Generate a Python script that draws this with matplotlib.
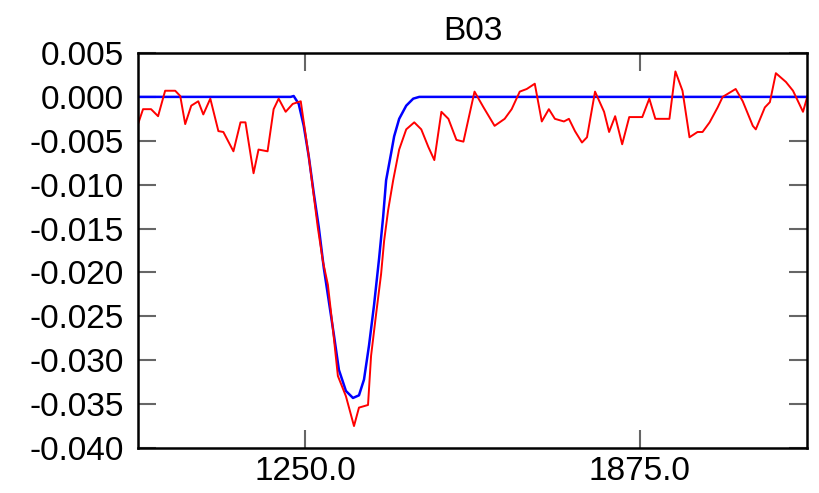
import matplotlib
matplotlib.use("Agg")
import matplotlib.pyplot as plt

plt.rcParams["font.family"] = ["Liberation Sans", "DejaVu Sans"]

# measured trace (red) and fitted dip model (blue)
trace_x = [
    937.5, 946.9, 961.9, 975.0, 988.2, 1007.0, 1016.4, 1025.7, 1037.0, 1050.1,
    1059.5, 1072.6, 1087.7, 1097.0, 1115.8, 1129.0, 1138.3, 1153.4, 1162.7, 1179.6,
    1190.9, 1200.3, 1213.4, 1226.6, 1241.6, 1256.6, 1273.5, 1282.9, 1292.3, 1301.6,
    1311.0, 1326.0, 1341.1, 1350.4, 1367.3, 1373.0, 1382.3, 1391.7, 1397.4, 1404.9,
    1414.3, 1425.5, 1438.7, 1453.7, 1466.8, 1480.0, 1491.2, 1504.4, 1517.5, 1532.5,
    1545.6, 1566.3, 1583.2, 1603.8, 1622.6, 1635.7, 1650.8, 1663.9, 1678.9, 1692.0,
    1705.2, 1716.5, 1733.4, 1742.7, 1754.0, 1767.1, 1776.5, 1791.5, 1808.4, 1817.8,
    1829.1, 1842.2, 1855.4, 1879.8, 1892.9, 1904.2, 1930.5, 1941.7, 1954.9, 1968.0,
    1983.0, 1992.4, 2005.6, 2020.6, 2030.0, 2054.3, 2067.5, 2086.3, 2091.9, 2108.8,
    2118.2, 2129.4, 2148.2, 2161.4, 2170.8, 2180.1, 2189.5,
]
trace_y = [
    -0.0031, -0.0014, -0.0014, -0.0022, 0.0007, 0.0007, 0.0001, -0.0031, -0.0010, -0.0005,
    -0.0020, -0.0002, -0.0039, -0.0040, -0.0062, -0.0029, -0.0029, -0.0087, -0.0060, -0.0062,
    -0.0014, -0.0002, -0.0017, -0.0008, -0.0005, -0.0068, -0.0149, -0.0187, -0.0214, -0.0264,
    -0.0318, -0.0341, -0.0375, -0.0354, -0.0351, -0.0295, -0.0248, -0.0202, -0.0164, -0.0129,
    -0.0095, -0.0060, -0.0037, -0.0029, -0.0037, -0.0057, -0.0072, -0.0017, -0.0025, -0.0049,
    -0.0051, 0.0006, -0.0012, -0.0033, -0.0025, -0.0014, 0.0006, 0.0009, 0.0015, -0.0028,
    -0.0014, -0.0025, -0.0028, -0.0025, -0.0039, -0.0052, -0.0046, 0.0006, -0.0017, -0.0040,
    -0.0022, -0.0054, -0.0023, -0.0023, -0.0002, -0.0025, -0.0025, 0.0029, 0.0007, -0.0046,
    -0.0040, -0.0040, -0.0029, -0.0012, 0.0000, 0.0009, -0.0005, -0.0033, -0.0037, -0.0012,
    -0.0006, 0.0027, 0.0017, 0.0007, -0.0005, -0.0017, 0.0003,
]

model_x = [
    937.5, 1222.8, 1228.4, 1237.8, 1247.2, 1256.6, 1266.0, 1275.4, 1284.7, 1294.1,
    1303.5, 1312.9, 1326.0, 1339.2, 1350.4, 1359.8, 1369.2, 1378.6, 1388.0, 1395.5,
    1401.1, 1410.5, 1416.1, 1425.5, 1438.7, 1451.8, 1463.1, 2187.5,
]
model_y = [
    0.0, 0.0, 0.0001, -0.0008, -0.0033, -0.0068, -0.0110, -0.0149, -0.0195, -0.0233,
    -0.0271, -0.0311, -0.0335, -0.0343, -0.0340, -0.0322, -0.0283, -0.0237, -0.0184, -0.0137,
    -0.0095, -0.0064, -0.0045, -0.0025, -0.0010, -0.0002, 0.0, 0.0,
]

x_ticks = [1250.0, 1875.0]
y_ticks = [0.005, 0.000, -0.005, -0.010, -0.015, -0.020, -0.025, -0.030, -0.035, -0.040]

fig = plt.figure(figsize=(8.2, 4.93), dpi=100)
ax = fig.add_axes([0.1683, 0.0913, 0.8158, 0.8012])

ax.plot(model_x, model_y, color="#0000ff", lw=1.8)
ax.plot(trace_x, trace_y, color="#ff0000", lw=1.4)

ax.set_xlim(937.5, 2187.5)
ax.set_ylim(-0.040, 0.005)
ax.set_xticks(x_ticks)
ax.set_xticklabels([f"{t:.1f}" for t in x_ticks])
ax.set_yticks(y_ticks)
ax.set_yticklabels([f"{t:.3f}" for t in y_ticks])

ax.tick_params(direction="in", length=13, width=1.5, color="#666666",
               top=True, right=True, labelsize=24)
ax.tick_params(axis="y", pad=10)
ax.tick_params(axis="x", pad=6)
for spine in ax.spines.values():
    spine.set_linewidth(1.8)
    spine.set_color("black")

ax.set_title("B03", fontsize=24, pad=9)

fig.savefig("out.png", dpi=100)
